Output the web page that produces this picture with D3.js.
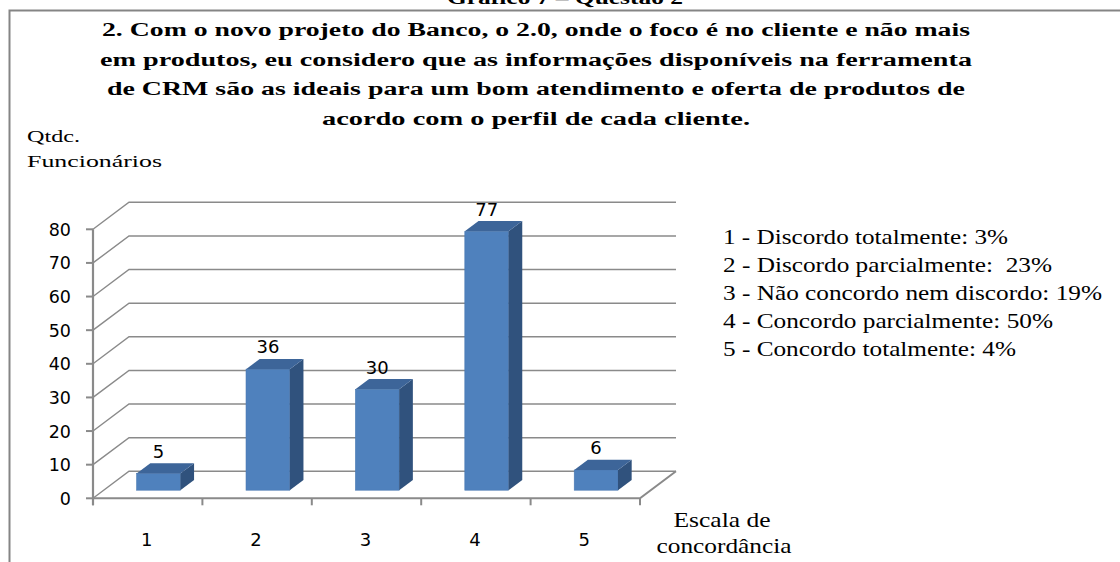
<!DOCTYPE html>
<html><head>
<meta charset="utf-8">
<title>Gráfico 7 - Questão 2</title>
<script src="https://d3js.org/d3.v7.min.js"></script>
<style>
body { margin: 0; background: #fff; }
svg { display: block; }
.serif { font-family: "Liberation Serif", "Times New Roman", serif; }
.sans { font-family: "DejaVu Sans", Verdana, sans-serif; }
</style>
</head>
<body>
<svg id="chart" width="1120" height="562"></svg>
<script>
// data
const categories = ["1", "2", "3", "4", "5"];
const values = [5, 36, 30, 77, 6];
const yTicks = [0, 10, 20, 30, 40, 50, 60, 70, 80];
const titleLines = [
    "2. Com o novo projeto do Banco, o 2.0, onde o foco é no cliente e não mais",
    "em produtos, eu considero que as informações disponíveis na ferramenta",
    "de CRM são as ideais para um bom atendimento e oferta de produtos de",
    "acordo com o perfil de cada cliente."
];
const legendLines = [
    "1 - Discordo totalmente: 3%",
    "2 - Discordo parcialmente:  23%",
    "3 - Não concordo nem discordo: 19%",
    "4 - Concordo parcialmente: 50%",
    "5 - Concordo totalmente: 4%"
];

const svg = d3.select("#chart");

// frame
svg.append("path")
    .attr("d", "M9.5,562 V10.5 H1120")
    .attr("fill", "none")
    .attr("stroke", "#858585")
    .attr("stroke-width", 2);

// caption above the frame (cut off in the original too)
svg.append("text").attr("class", "serif")
    .attr("x", 447).attr("y", 4)
    .attr("font-size", 19).attr("font-weight", "bold")
    .attr("textLength", 236).attr("lengthAdjust", "spacingAndGlyphs")
    .text("Gráfico 7 – Questão 2");

// title
const titleWidths = [868, 872, 858, 428];
svg.append("g").selectAll("text").data(titleLines)
    .join("text")
    .attr("class", "serif")
    .attr("x", 536)
    .attr("y", (d, i) => 36 + i * 29.6)
    .attr("text-anchor", "middle")
    .attr("font-size", 18)
    .attr("font-weight", "bold")
    .attr("textLength", (d, i) => titleWidths[i])
    .attr("lengthAdjust", "spacingAndGlyphs")
    .text(d => d);

// y axis title
svg.append("text").attr("class", "serif")
    .attr("x", 27).attr("y", 142).attr("font-size", 17)
    .attr("textLength", 53).attr("lengthAdjust", "spacingAndGlyphs")
    .text("Qtdc.");
svg.append("text").attr("class", "serif")
    .attr("x", 27).attr("y", 167).attr("font-size", 17)
    .attr("textLength", 135).attr("lengthAdjust", "spacingAndGlyphs")
    .text("Funcionários");

// 3d scales
const x = d3.scaleBand().domain(categories).range([93, 640]).padding(0);
const y = d3.scaleLinear().domain([0, 80]).range([498.3, 229.3]);
const DX = 36, DY = -27;          // depth of the plot box
const f1 = 0.3, f2 = 0.68;        // bar front/back depth
const pt = (px, v, f) => [px + f * DX, y(v) + f * DY];

const grid = svg.append("g")
    .attr("fill", "none")
    .attr("stroke", "#8a8a8a")
    .attr("stroke-width", 1.4);

const x0 = x.range()[0], x1 = x.range()[1];

// back wall gridlines + side wall diagonals
grid.selectAll("path.grid").data(yTicks)
    .join("path")
    .attr("class", "grid")
    .attr("d", t => d3.line()([pt(x0, t, 0), pt(x0, t, 1), pt(x1, t, 1)]));

// floor front edge and right edge
grid.append("path")
    .attr("d", d3.line()([pt(x0, 0, 0), pt(x1, 0, 0), pt(x1, 0, 1)]))
    .attr("stroke-width", 2);

// front y axis
grid.append("line")
    .attr("x1", x0).attr("x2", x0)
    .attr("y1", y(80)).attr("y2", y(0) + 7)
    .attr("stroke-width", 2.2);
grid.selectAll("line.ytick").data(yTicks)
    .join("line")
    .attr("class", "ytick")
    .attr("x1", x0 - 7).attr("x2", x0)
    .attr("y1", d => y(d)).attr("y2", d => y(d))
    .attr("stroke-width", 2);

// x ticks
const xTickPos = categories.map(c => x(c)).concat([x1]);
grid.selectAll("line.xtick").data(xTickPos)
    .join("line")
    .attr("class", "xtick")
    .attr("x1", d => d).attr("x2", d => d)
    .attr("y1", y(0)).attr("y2", y(0) + 7)
    .attr("stroke-width", 2);

// y tick labels
svg.append("g").selectAll("text").data(yTicks)
    .join("text")
    .attr("class", "sans")
    .attr("x", 71)
    .attr("y", d => y(d) + 6.5)
    .attr("text-anchor", "end")
    .attr("font-size", 17.5)
    .text(d => d);

// x labels
svg.append("g").selectAll("text").data(categories)
    .join("text")
    .attr("class", "sans")
    .attr("x", d => x(d) + x.bandwidth() / 2 - 1)
    .attr("y", 546)
    .attr("text-anchor", "middle")
    .attr("font-size", 18)
    .text(d => d);

// bars
const bw = x.bandwidth() * 0.4;
const ddx = (f2 - f1) * DX, ddy = (f2 - f1) * DY;
const bars = svg.append("g").selectAll("g").data(values)
    .join("g")
    .attr("transform", (d, i) => {
        const p = pt(x(categories[i]) + (x.bandwidth() - bw) / 2, 0, f1);
        return "translate(" + p[0] + "," + p[1] + ")";
    });

bars.append("rect")
    .attr("x", 0)
    .attr("y", d => y(d) - y(0))
    .attr("width", bw)
    .attr("height", d => y(0) - y(d))
    .attr("fill", "#4f81bd")
    .attr("stroke", "#4a79b2")
    .attr("stroke-width", 0.6);

bars.append("path")
    .attr("d", d => {
        const h = y(d) - y(0);
        return d3.line()([[bw, h], [bw + ddx, h + ddy], [bw + ddx, ddy], [bw, 0]]) + "Z";
    })
    .attr("fill", "#30527d");

bars.append("path")
    .attr("d", d => {
        const h = y(d) - y(0);
        return d3.line()([[0, h], [bw, h], [bw + ddx, h + ddy], [ddx, h + ddy]]) + "Z";
    })
    .attr("fill", "#3d6599");

// value labels
bars.append("text")
    .attr("class", "sans")
    .attr("x", bw / 2)
    .attr("y", d => y(d) - y(0) + ddy - 5.5)
    .attr("text-anchor", "middle")
    .attr("font-size", 18)
    .text(d => d);

// legend text
const legendWidths = [285, 329, 379, 330, 293];
svg.append("g").selectAll("text").data(legendLines)
    .join("text")
    .attr("class", "serif")
    .attr("x", 723)
    .attr("y", (d, i) => 244 + i * 28.1)
    .attr("font-size", 21)
    .attr("textLength", (d, i) => legendWidths[i])
    .attr("lengthAdjust", "spacingAndGlyphs")
    .attr("xml:space", "preserve")
    .style("white-space", "pre")
    .text(d => d);

// x axis title
svg.append("text").attr("class", "serif")
    .attr("x", 722).attr("y", 527)
    .attr("text-anchor", "middle").attr("font-size", 21)
    .attr("textLength", 97).attr("lengthAdjust", "spacingAndGlyphs")
    .text("Escala de");
svg.append("text").attr("class", "serif")
    .attr("x", 724).attr("y", 553)
    .attr("text-anchor", "middle").attr("font-size", 21)
    .attr("textLength", 135).attr("lengthAdjust", "spacingAndGlyphs")
    .text("concordância");
</script>
</body>
</html>
